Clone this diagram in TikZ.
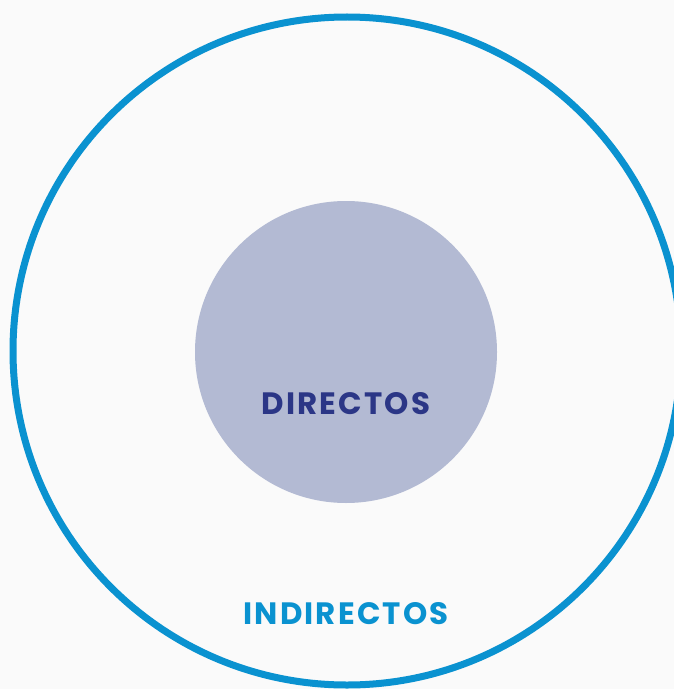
\documentclass[tikz,border=0pt]{standalone}
\usepackage{fontspec}
\setmainfont{Poppins}[LetterSpace=7]
\usetikzlibrary{positioning}
\definecolor{ringblue}{HTML}{0A92D0}
\definecolor{corefill}{HTML}{B3BAD3}
\definecolor{coretext}{HTML}{2B3686}
\definecolor{paper}{HTML}{FAFAFA}
\begin{document}
\begin{tikzpicture}[x=1bp, y=-1bp,% styles used in image code
ring/.style  = {draw=ringblue, line width=7bp},
core/.style  = {fill=corefill},
label/.style = {font=\fontsize{31}{31}\selectfont\bfseries, inner sep=0pt}
                        ]
	% page and background
	\fill[paper] (0,0) rectangle (674,689);
	\useasboundingbox (0,0) rectangle (674,689);

	\coordinate (O) at (347,351);
	\coordinate (C) at (346,352);

	% circles
	\draw[ring] (O) circle[radius=334];
	\fill[core] (C) circle[radius=151];

	% labels
	\node[label, text=coretext] (direct) at (346,404) {DIRECTOS};
	\node[label, text=ringblue] (indirect) at (346,614) {INDIRECTOS};
\end{tikzpicture}
\end{document}
